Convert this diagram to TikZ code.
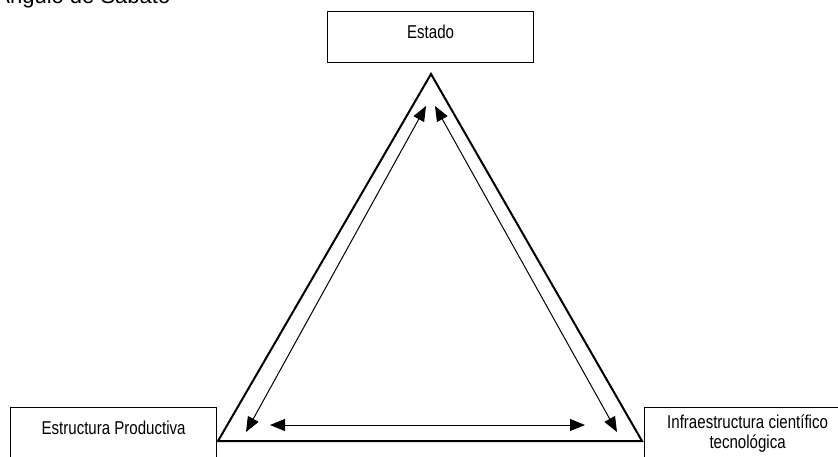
\documentclass[tikz,border=0pt]{standalone}
\usepackage{fontspec}
\usepackage{tikz}
\usetikzlibrary{arrows.meta}
\setmainfont{Liberation Sans}
\newfontfamily\narrowfont{Liberation Sans}[FakeStretch=0.81]

\begin{document}
\begin{tikzpicture}[x=0.5pt,y=-0.5pt,>={Triangle[length=7.5pt,width=6pt]},
 box/.style={draw,line width=0.6pt,minimum width=103pt,minimum height=25.5pt,inner sep=0pt,
  font=\narrowfont\fontsize{9.3pt}{10pt}\selectfont,align=center},
 oneline/.style={text height=13.6pt,text depth=11.9pt}]
\useasboundingbox (0,0) rectangle (838,456);
\clip (0,0) rectangle (838,456);
\node[anchor=base west,inner sep=0pt,font=\fontsize{11pt}{13pt}\selectfont] (title) at (-5,3.5) {Ángulo de Sabato};
\node[box,oneline,anchor=north west] (estado) at (327,11) {Estado};
\node[box,oneline,anchor=north west] (empresa) at (10,407) {Estructura Productiva};
\node[box,anchor=north west] (ciencia) at (644,407) {Infraestructura científico\\tecnológica};
% triangle
\coordinate (apex) at (431,74);
\coordinate (lcorner) at (218,441);
\coordinate (rcorner) at (642,441);
\draw[line width=1pt] (apex)--(rcorner)--(lcorner)--cycle;
% arrows inside
\coordinate (ltop) at (426,106);
\coordinate (lbot) at (246,432);
\coordinate (rtop) at (435,106);
\coordinate (rbot) at (617,432);
\coordinate (bleft) at (270,425);
\coordinate (bright) at (585,425);
\draw[<->,line width=0.5pt] (ltop)--(lbot);
\draw[<->,line width=0.5pt] (rtop)--(rbot);
\draw[<->,line width=0.5pt] (bleft)--(bright);
\end{tikzpicture}
\end{document}
